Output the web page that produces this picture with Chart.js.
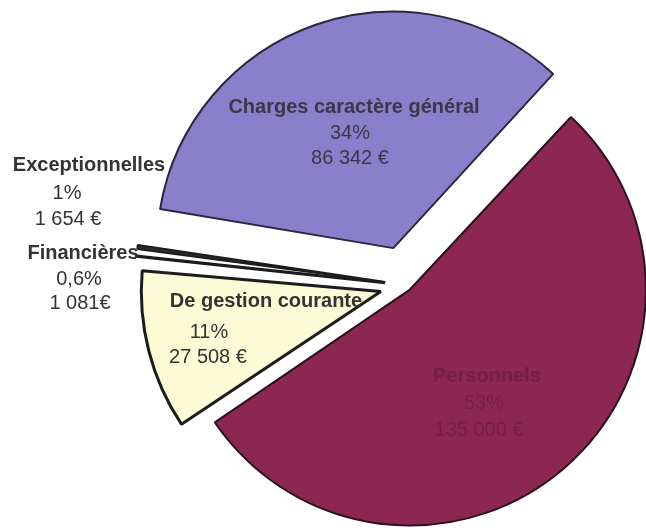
<!DOCTYPE html>
<html>
<head>
<meta charset="utf-8">
<script src="https://cdn.jsdelivr.net/npm/chart.js@4/dist/chart.umd.min.js"></script>
<style>
  html, body { margin: 0; padding: 0; background: #fff; overflow: hidden; }
  #wrap { position: relative; width: 646px; height: 532px; overflow: hidden; }
  canvas { position: absolute; left: 0; top: 0; }
</style>
</head>
<body>
<div id="wrap"><canvas id="pieChart" width="700" height="600"></canvas></div>
<script>
// Data
const categories = ['Personnels', 'De gestion courante', 'Financières', 'Exceptionnelles', 'Charges caractère général'];
const amounts = [135000, 27508, 1081, 1654, 86342];
const percentLabels = ['53%', '11%', '0,6%', '1%', '34%'];
const amountLabels = ['135 000 €', '27 508 €', '1 081€', '1 654 €', '86 342 €'];

const sliceColors = ['#8c2752', '#fbfbd6', '#e6eef2', '#2e2e2e', '#8a7fcb'];
const sliceOffsets = [24, 104, 84, 84, 156];

// where each label block goes (title, percent, amount)
const labelSpots = [
    { color: '#75203f', lines: [[487, 376], [484, 403], [479, 430]] },
    { color: '#333', lines: [[266, 301], [209, 332], [208, 357]] },
    { color: '#333', lines: [[83, 253], [79, 279], [80, 303]] },
    { color: '#333', lines: [[89, 165], [67, 193], [68, 219]] },
    { color: '#3a3848', lines: [[354, 107], [350, 133], [350, 158]] }
];

const sliceLabels = {
    id: 'sliceLabels',
    afterDraw(chart) {
        const ctx = chart.ctx;
        ctx.save();
        ctx.textAlign = 'center';
        ctx.textBaseline = 'middle';
        labelSpots.forEach((spot, i) => {
            const texts = [categories[i], percentLabels[i], amountLabels[i]];
            texts.forEach((t, j) => {
                ctx.font = (j === 0 ? 'bold ' : '') + '20px "Liberation Sans", Arial, sans-serif';
                ctx.fillStyle = spot.color;
                ctx.fillText(t, spot.lines[j][0], spot.lines[j][1]);
            });
        });
        ctx.restore();
    }
};

new Chart(document.getElementById('pieChart'), {
    type: 'pie',
    data: {
        labels: categories,
        datasets: [{
            data: amounts,
            backgroundColor: sliceColors,
            borderColor: ['#2a1020', '#1c1c1c', '#1c1c1c', '#1c1c1c', '#2a2840'],
            borderWidth: [2, 3, 3, 2, 2],
            offset: sliceOffsets
        }]
    },
    options: {
        responsive: false,
        animation: false,
        rotation: 42.8,
        radius: 230,
        layout: { padding: { left: 150, right: 38, top: 50, bottom: 80 } },
        plugins: {
            legend: { display: false },
            tooltip: { enabled: false }
        },
        events: []
    },
    plugins: [sliceLabels]
});
</script>
</body>
</html>
